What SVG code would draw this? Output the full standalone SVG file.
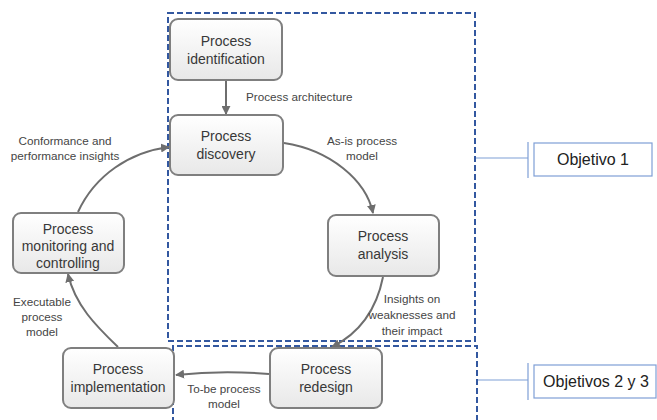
<svg xmlns="http://www.w3.org/2000/svg" width="657" height="420" viewBox="0 0 657 420">
  <defs>
    <linearGradient id="nodeFill" x1="0" y1="0" x2="0" y2="1">
      <stop offset="0" stop-color="#ffffff"/>
      <stop offset="1" stop-color="#e8e8e8"/>
    </linearGradient>
    <marker id="arrow" viewBox="0 0 10 10" refX="9" refY="5" markerWidth="9" markerHeight="9" markerUnits="userSpaceOnUse" orient="auto">
      <path d="M0,0 L10,5 L0,10 Z" fill="#6e6e6e"/>
    </marker>
  </defs>
  <style>
    .node rect { fill: url(#nodeFill); stroke: #7f7f7f; stroke-width: 2; }
    .node text { font-family: "Liberation Sans", Arial, sans-serif; font-size: 14px; fill: #383838; text-anchor: middle; }
    .edge { fill: none; stroke: #6e6e6e; stroke-width: 2; marker-end: url(#arrow); }
    .lbl { font-family: "Liberation Sans", Arial, sans-serif; font-size: 11.7px; fill: #454545; text-anchor: middle; }
    .zone { fill: none; stroke: #3358a0; stroke-width: 2; stroke-dasharray: 6 3; }
    .tag rect { fill: #ffffff; stroke: #7f9fd6; stroke-width: 1.2; }
    .tag text { font-family: "Liberation Sans", Arial, sans-serif; font-size: 16px; fill: #222222; text-anchor: middle; }
    .brace { fill: none; stroke: #7f9fd6; stroke-width: 1.2; }
  </style>
  <rect width="657" height="420" fill="#ffffff"/>

  <!-- scope zones -->
  <g id="zones">
    <rect class="zone" x="168" y="13" width="307" height="328"/>
    <path class="zone" d="M173,423 V346 H477 V423"/>
  </g>

  <!-- connectors -->
  <g id="connectors">
    <path class="edge" d="M226,81 V114"/>
    <path class="edge" d="M284,143 C330,150 366,180 373,213"/>
    <path class="edge" d="M383,277 C376,312 358,334 332,347"/>
    <path class="edge" d="M269,374 Q222,370 176,375"/>
    <path class="edge" d="M118,347 C96,326 75,305 68,274"/>
    <path class="edge" d="M78,212 C95,175 130,152 169,147"/>
    <path class="brace" d="M476,158 H528 M528,142 V178"/>
    <path class="brace" d="M478,380 H528 M528,363 V400"/>
  </g>

  <!-- connector labels -->
  <g id="labels">
    <text class="lbl" x="246" y="101" style="text-anchor:start">Process architecture</text>
    <text class="lbl" x="362" y="145">As-is process</text>
    <text class="lbl" x="362" y="160">model</text>
    <text class="lbl" x="65" y="145">Conformance and</text>
    <text class="lbl" x="65" y="160">performance insights</text>
    <text class="lbl" x="412" y="303">Insights on</text>
    <text class="lbl" x="412" y="319">weaknesses and</text>
    <text class="lbl" x="412" y="335">their impact</text>
    <text class="lbl" x="42" y="306">Executable</text>
    <text class="lbl" x="42" y="321">process</text>
    <text class="lbl" x="42" y="336">model</text>
    <text class="lbl" x="224" y="393">To-be process</text>
    <text class="lbl" x="224" y="408">model</text>
  </g>

  <!-- process nodes -->
  <g id="identification" class="node">
    <rect x="170" y="19" width="112" height="61" rx="8"/>
    <text x="226" y="46">Process</text>
    <text x="226" y="64">identification</text>
  </g>
  <g id="discovery" class="node">
    <rect x="170" y="115" width="113" height="60" rx="8"/>
    <text x="226" y="141">Process</text>
    <text x="226" y="159">discovery</text>
  </g>
  <g id="analysis" class="node">
    <rect x="328" y="215" width="111" height="61" rx="8"/>
    <text x="383" y="241">Process</text>
    <text x="383" y="259">analysis</text>
  </g>
  <g id="redesign" class="node">
    <rect x="270" y="348" width="112" height="60" rx="8"/>
    <text x="326" y="374">Process</text>
    <text x="326" y="392">redesign</text>
  </g>
  <g id="implementation" class="node">
    <rect x="63" y="348" width="111" height="60" rx="8"/>
    <text x="118" y="374">Process</text>
    <text x="118" y="392">implementation</text>
  </g>
  <g id="monitoring" class="node">
    <rect x="13" y="213" width="111" height="60" rx="8"/>
    <text x="68" y="234">Process</text>
    <text x="68" y="251">monitoring and</text>
    <text x="68" y="268">controlling</text>
  </g>

  <!-- objective tags -->
  <g id="objetivo1" class="tag">
    <rect x="534" y="143" width="118" height="33"/>
    <text x="593" y="165">Objetivo 1</text>
  </g>
  <g id="objetivos23" class="tag">
    <rect x="534" y="365" width="122" height="33"/>
    <text x="596" y="387">Objetivos 2 y 3</text>
  </g>
</svg>
